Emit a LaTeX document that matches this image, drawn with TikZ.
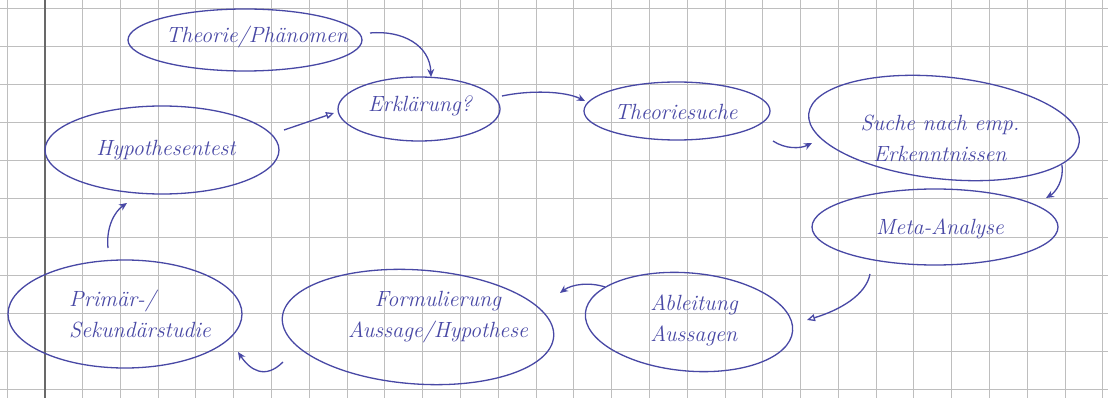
\documentclass[tikz,border=0pt]{standalone}
\usetikzlibrary{shapes.geometric,arrows.meta,calc}
\definecolor{ink}{RGB}{72,72,165}
\definecolor{gridc}{RGB}{190,190,190}
\definecolor{marginc}{RGB}{105,105,105}
\begin{document}
\begin{tikzpicture}[x=1pt,y=1pt,
  bub/.style={draw=ink, ellipse, line width=1.3pt, inner sep=0pt, outer sep=0pt},
  txt/.style={text=ink, font=\fontsize{22}{31}\selectfont\itshape, inner sep=0pt, align=center},
  arr/.style={draw=ink, line width=1.3pt, -{Stealth[length=8pt,width=7pt]}},
  oarr/.style={draw=ink, line width=1.3pt, -{Triangle[open,length=8pt,width=7pt]}}]
\useasboundingbox (0,0) rectangle (1108,-398);
\fill[white] (0,0) rectangle (1108,-398);
% grid paper
\foreach \i in {0,...,29} \draw[gridc, line width=1pt] ({7+37.79*\i},0) -- ({7+37.79*\i},-398);
\foreach \j in {0,...,10} \draw[gridc, line width=1pt] (0,{-9-38*\j}) -- (1108,{-9-38*\j});
\draw[marginc, line width=2.2pt] (45,0) -- (45,-398);
% ellipses
\node[bub, minimum width=234pt, minimum height=62pt] (thph) at (245,-40) {};
\node[bub, minimum width=162pt, minimum height=64pt] (erk) at (419,-109) {};
\node[bub, minimum width=186pt, minimum height=58pt] (ths) at (677,-111) {};
\node[bub, minimum width=272pt, minimum height=102pt, rotate=-6] (suche) at (944,-128) {};
\node[bub, minimum width=246pt, minimum height=76pt] (meta) at (935,-227) {};
\node[bub, minimum width=208pt, minimum height=98pt, rotate=-5] (abl) at (689,-322) {};
\node[bub, minimum width=272pt, minimum height=114pt, rotate=-4] (form) at (418,-327) {};
\node[bub, minimum width=234pt, minimum height=108pt] (prim) at (125,-314) {};
\node[bub, minimum width=234pt, minimum height=88pt] (hyp) at (162,-150) {};
% texts
\node[txt] (thpht) at (257,-37) {Theorie/Phänomen};
\node[txt] (erkt) at (420,-106) {Erklärung?};
\node[txt] (thst) at (676,-112) {Theoriesuche};
\node[txt] (sucht) at (940,-138) {Suche nach emp.\\Erkenntnissen};
\node[txt] (metat) at (940,-229) {Meta-Analyse};
\node[txt, align=left] (ablt) at (694,-320) {Ableitung\\Aussagen};
\node[txt] (formt) at (438,-317) {Formulierung\\Aussage/Hypothese};
\node[txt, align=left] (primt) at (140,-314) {Primär-/\\Sekundärstudie};
\node[txt] (hypt) at (166,-150) {Hypothesentest};
% connectors
\draw[arr] ($(thph.center)+(125,7)$) .. controls (402,-30) and (430,-45) .. ($(erk.center)+(12,32)$);
\draw[oarr] ($(hyp.center)+(122,20)$) -- ($(erk.center)+(-85,-4)$);
\draw[arr] ($(erk.center)+(83,13)$) .. controls (530,-90) and (565,-91) .. ($(ths.center)+(-92,10)$);
\draw[arr] ($(ths.center)+(96,-30)$) .. controls (785,-149) and (800,-149) .. ($(suche.center)+(-132,-15)$);
\draw[arr] ($(suche.center)+(118,-37)$) .. controls (1064,-180) and (1056,-192) .. ($(meta.center)+(111,29)$);
\draw[oarr] ($(meta.center)+(-65,-47)$) .. controls (866,-295) and (840,-310) .. ($(abl.center)+(118,2)$);
\draw[arr] ($(abl.center)+(-84,35)$) .. controls (590,-282) and (572,-284) .. ($(form.center)+(142,34)$);
\draw[arr] ($(form.center)+(-135,-35)$) .. controls (265,-380) and (250,-370) .. ($(prim.center)+(113,-38)$);
\draw[arr] ($(prim.center)+(-17,66)$) .. controls (106,-228) and (114,-212) .. ($(hyp.center)+(-35,-53)$);
\end{tikzpicture}
\end{document}
